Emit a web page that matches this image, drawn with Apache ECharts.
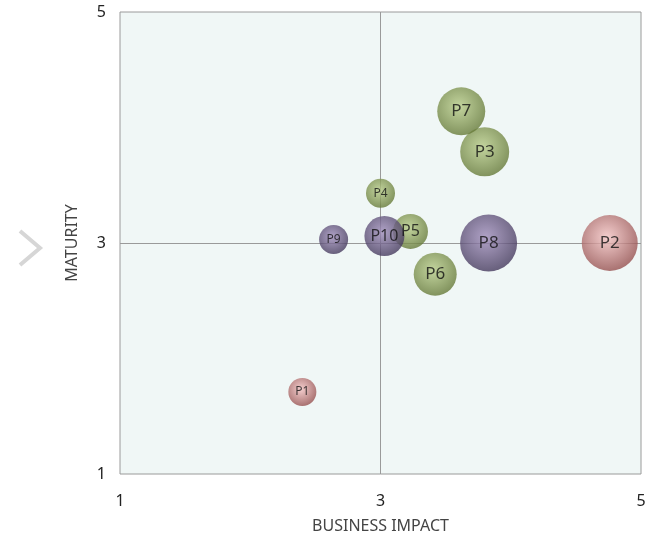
<!DOCTYPE html>
<html>
<head>
<meta charset="utf-8">
<script src="https://cdn.jsdelivr.net/npm/echarts@6/dist/echarts.min.js"></script>
<style>
  html, body { margin: 0; padding: 0; background: #fff; }
  #chart { width: 657px; height: 535px; }
</style>
</head>
<body>
<div id="chart"></div>
<script>
// projects: name, business impact (x), maturity (y), bubble size, colour group
const names = ["P1", "P2", "P3", "P4", "P5", "P6", "P7", "P8", "P9", "P10"];
const impact = [2.4, 4.76, 3.8, 3.0, 3.23, 3.42, 3.62, 3.83, 2.64, 3.03];
const maturity = [1.71, 3.0, 3.79, 3.43, 3.1, 2.73, 4.14, 3.0, 3.03, 3.06];
const sizes = [28, 56, 49, 29, 35, 43, 48, 57, 29, 40];
const groups = ["red", "red", "green", "green", "green", "green", "green", "purple", "purple", "purple"];
const axisTicks = [1, 3, 5];

const palette = {
  green: ["#b8cc88", "#667a38"],
  purple: ["#a08dbb", "#463a5e"],
  red: ["#f6c4c4", "#975150"],
};

const grad = (g) => ({
  type: "radial", x: 0.45, y: 0.4, r: 0.6,
  colorStops: [
    { offset: 0, color: palette[g][0] },
    { offset: 1, color: palette[g][1] },
  ],
});

const points = names.map((n, i) => ({
  name: n,
  value: [impact[i], maturity[i], sizes[i]],
  symbolSize: sizes[i],
  itemStyle: { color: grad(groups[i]) },
  label: { fontSize: sizes[i] < 32 ? 12 : sizes[i] < 42 ? 16 : 17 },
}));

const chart = echarts.init(document.getElementById("chart"));
chart.setOption({
  animation: false,
  textStyle: { fontFamily: "Noto Sans" },
  grid: {
    left: 120, right: 16, top: 12, bottom: 61,
    outerBoundsMode: "none", containLabel: false,
    show: true, backgroundColor: "#f0f7f6", borderColor: "#9a9a9a", borderWidth: 1,
  },
  graphic: [{
    type: "polyline",
    shape: { points: [[20, 231], [40, 248], [20, 265]] },
    style: { stroke: "#d6d6d6", lineWidth: 4, fill: null },
  }],
  xAxis: {
    type: "value", min: 1, max: 5, interval: 2,
    name: "BUSINESS IMPACT", nameLocation: "middle", nameGap: 44,
    nameTextStyle: { color: "#444", fontSize: 16 },
    axisLine: { show: false }, axisTick: { show: false }, splitLine: { show: false },
    axisLabel: { color: "#222", fontSize: 16, margin: 19,
      formatter: (v) => axisTicks.includes(v) ? String(v) : "" },
  },
  yAxis: {
    type: "value", min: 1, max: 5, interval: 2,
    name: "MATURITY", nameLocation: "middle", nameGap: 40,
    nameTextStyle: { color: "#444", fontSize: 16 },
    axisLine: { show: false }, axisTick: { show: false }, splitLine: { show: false },
    axisLabel: { color: "#222", fontSize: 16, margin: 14,
      formatter: (v) => axisTicks.includes(v) ? String(v) : "" },
  },
  series: [{
    type: "scatter",
    data: points,
    label: { show: true, formatter: "{b}", color: "#111", position: "inside" },
    markLine: {
      silent: true, symbol: "none", label: { show: false },
      lineStyle: { color: "#9a9a9a", type: "solid", width: 1 },
      data: [{ xAxis: 3 }, { yAxis: 3 }],
      z: 1,
    },
  }],
});
</script>
</body>
</html>
